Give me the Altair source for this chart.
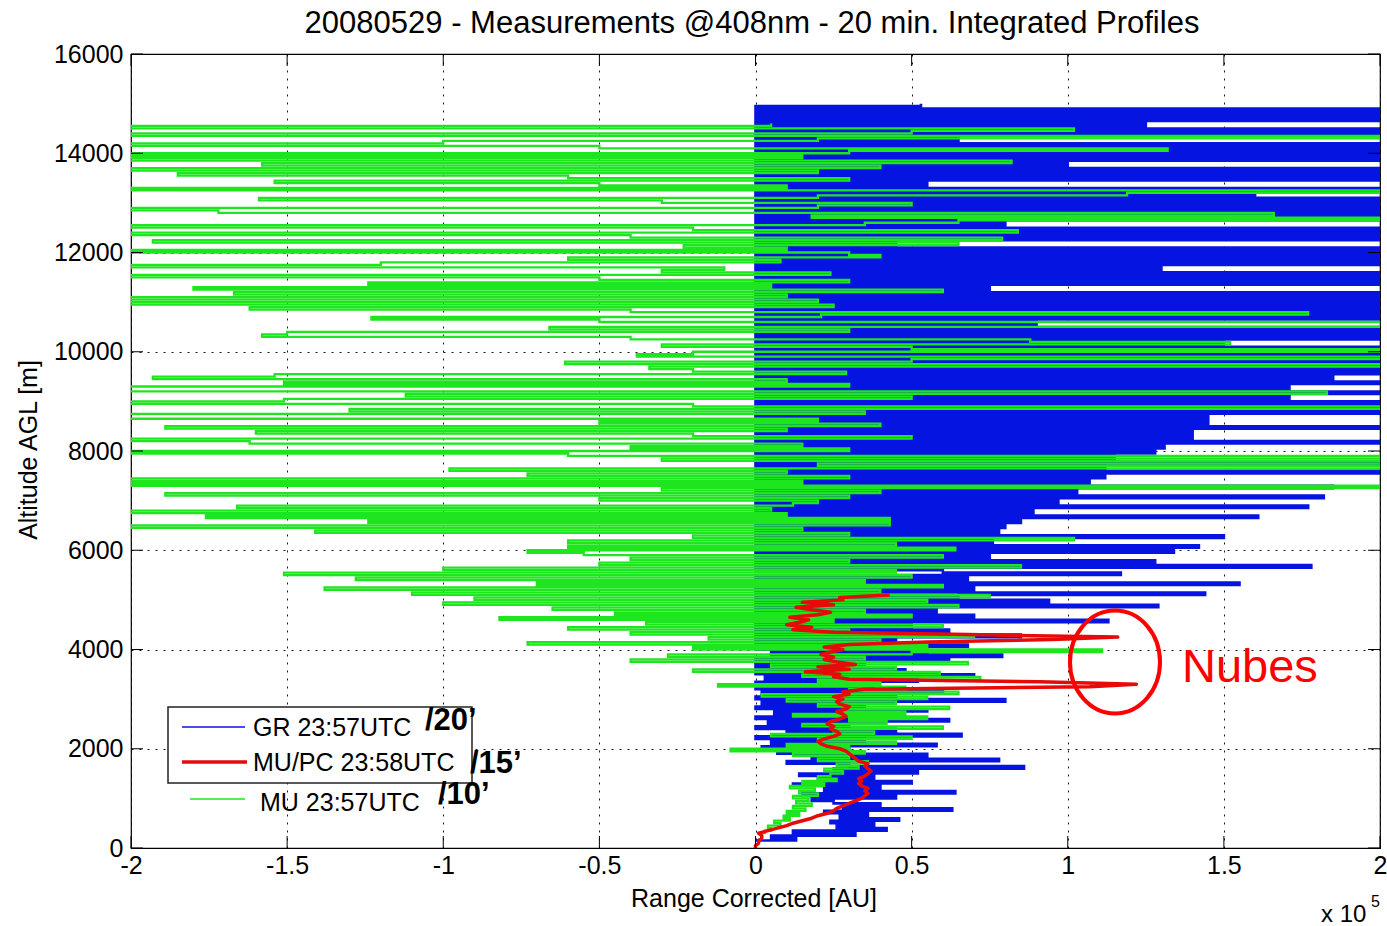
import altair as alt
import pandas as pd

# ---------------- data ----------------
TITLE = "20080529 - Measurements @408nm - 20 min. Integrated Profiles"
X_TITLE = "Range Corrected [AU]"
Y_TITLE = "Altitude AGL [m]"
X_TICKS = [-2, -1.5, -1, -0.5, 0, 0.5, 1, 1.5, 2]
Y_TICKS = [0, 2000, 4000, 6000, 8000, 10000, 12000, 14000, 16000]
SERIES = ["GR 23:57UTC", "MU/PC 23:58UTC", "MU 23:57UTC"]
INTEGRATION = ["/20\u2019", "/15\u2019", "/10\u2019"]
NOTE = "Nubes"

ALT_STEP = 50  # m between profile bins used here

# GR (blue) profile, x 1e5, starting at 150 m; one row per km
GR_START = 150
GR_VALUES = [
    [0.0, 0.13, 0.05, 0.32, 0.12, 0.42, 0.26, 0.38, 0.24, 0.46, 0.27, 0.36, 0.22, 0.63, 0.28, 0.40, 0.25],
    [0.18, 0.45, 0.15, 0.64, 0.22, 0.40, 0.12, 0.50, 0.20, 0.38, 0.14, 0.52, 0.25, 0.86, 0.30, 0.10, 0.78, 0.18, 0.55, 0.07],
    [0.30, 0.02, 0.58, 0.05, 0.35, 0.0, 0.66, 0.10, 0.45, 0.0, 0.30, 0.04, 0.62, 0.0, 0.40, 0.06, 0.55, 0.0, 0.35, 0.02],
    [0.80, 0.0, 0.45, 0.02, 0.60, 0.0, 0.38, 0.0, 0.52, 0.03, 0.70, 0.0, 0.48, 0.0, 0.35, 0.0, 0.62, 0.0, 0.79, 0.05],
    [0.55, 0.0, 0.68, 0.0, 0.45, 0.0, 0.85, 0.0, 0.62, 0.0, 0.50, 0.0, 1.13, 0.0, 0.70, 0.0, 0.58, 0.0, 1.29, 0.0],
    [0.94, 0.0, 0.65, 1.44, 0.0, 0.70, 0.0, 1.55, 0.0, 0.68, 0.0, 1.17, 0.60, 0.0, 1.78, 0.0, 1.28, 0.0, 0.75, 0.0],
    [1.34, 0.0, 1.42, 0.0, 0.76, 0.0, 1.50, 0.0, 0.78, 0.0, 0.80, 0.0, 0.85, 0.0, 1.61, 0.0, 0.89, 0.0, 1.77, 0.0],
    [0.97, 0.0, 1.82, 0.0, 1.03, 0.0, 1.85, 0.0, 1.07, 0.0, 1.12, 0.0, 2.6, 0.0, 1.12, 0.0, 2.4, 0.0, 1.15, 0.0],
    [1.28, 0.0, 1.31, 0.0, 2.5, 0.0, 1.40, 0.0, 1.40, 0.0, 2.4, 0.0, 1.45, 0.0, 1.45, 0.0, 2.8, 0.0, 2.5, 0.0],
    [2.6, 0.0, 1.71, 0.0, 2.5, 0.0, 1.71, 0.0, 2.2, 0.0, 1.85, 0.0, 2.5, 0.0, 3.0, 0.0, 2.4, 0.0, 2.7, 0.0],
    [3.0, 0.0, 2.8, 0.0, 1.50, 0.0, 3.0, 0.0, 2.6, 0.0, 3.0, 0.0, 0.9, 0.0, 2.7, 0.0, 3.0, 0.0, 2.5, 0.0],
    [2.8, 0.0, 3.0, 0.0, 2.4, 0.0, 0.75, 0.0, 3.0, 0.0, 2.6, 0.0, 3.0, 0.0, 1.3, 0.0, 2.9, 0.0, 3.0, 0.0],
    [3.0, 0.0, 2.5, 0.0, 0.45, 0.0, 3.0, 0.0, 2.7, 0.0, 3.0, 0.0, 0.8, 0.0, 3.0, 0.0, 2.6, 0.0, 3.0, 0.0],
    [2.9, 0.0, 3.0, 0.0, 1.6, 0.0, 3.0, 0.0, 0.55, 0.0, 2.8, 0.0, 3.0, 0.0, 2.5, 0.0, 1.0, 0.0, 3.0, 0.0],
    [3.0, 0.0, 2.6, 0.0, 3.0, 0.0, 0.65, 0.0, 2.8, 0.0, 3.0, 0.0, 1.25, 0.0, 2.7, 0.0, 3.0, 0.0, 3.0, 0.0],
    [0.53],
]

# MU (green) profile, starting at 300 m
MU_START = 300
MU_VALUES = [
    [0.01, 0.03, 0.05, 0.04, 0.08, 0.06, 0.11, 0.09, 0.14, 0.10, 0.16, 0.12, 0.18, 0.13],
    [0.17, 0.12, 0.20, 0.14, 0.19, 0.11, 0.22, 0.15, 0.26, 0.20, 0.24, 0.28, 0.22, 0.33, 0.26, 0.36, 0.20, 0.30, 0.12, 0.35],
    [-0.08, 0.30, 0.10, 0.45, 0.20, 0.50, 0.05, 0.38, 0.25, 0.60, 0.15, 0.42, 0.30, 0.55, 0.12, 0.48, 0.28, 0.62, 0.20, 0.45],
    [0.10, 0.55, 0.02, 0.65, 0.30, 0.48, -0.12, 0.40, 0.20, 0.72, 0.15, 0.59, -0.20, 0.45, 0.05, 0.68, -0.40, 0.35, -0.28, 0.50],
    [1.11, -0.20, 0.55, -0.73, 0.40, -0.15, 0.70, -0.40, 0.30, -0.60, 0.60, -0.35, 0.25, -0.82, 0.50, -0.45, 0.35, -0.65, 0.65, -1.00],
    [0.55, -0.90, 0.75, -1.10, 0.40, -1.38, 0.60, -0.70, 0.35, -1.28, 0.50, -1.51, 0.45, -1.00, 0.85, -0.50, 0.30, -0.40, 0.60, -0.55],
    [-0.73, 0.64, -0.60, 0.45, -0.60, 1.02, -0.20, 0.30, -1.41, 0.15, -2.4, 0.43, -1.24, 0.43, -1.76, 0.10, -2.3, 0.05, -1.66, 0.12],
    [0.20, -0.50, 0.30, -1.89, 0.40, -0.30, 2.4, -2.3, 0.15, -2.5, 0.30, -0.73, 0.10, -0.98, 2.6, 0.20, 2.3, -0.30, 2.5, -0.60],
    [-2.5, 0.30, -0.40, 0.15, -1.62, -2.2, 0.50, -0.20, -1.60, 0.10, -1.89, 0.40, -0.50, 0.20, -2.4, -2.2, 0.35, -1.30, 2.3, -0.20],
    [-2.3, -1.51, 0.50, -1.12, 1.83, -2.4, -2.2, 0.30, -1.51, 0.10, -1.93, -1.54, 0.29, -0.20, -0.34, 2.6, -0.61, 0.50, 2.4, -0.38],
    [-0.20, 2.4, 0.50, -0.30, 1.52, 0.88, -0.40, -1.58, -1.50, 0.30, -0.66, 2.5, 2.3, -0.50, -1.23, 0.21, 1.77, -0.40, -1.62, 0.25],
    [-2.3, 0.20, -2.5, 0.10, -1.67, 0.60, -1.80, 0.05, -1.24, 0.30, -0.50, -2.4, 0.24, -0.30, -0.10, -2.5, -1.20, 0.08, -0.60, 0.40],
    [0.30, -2.3, 0.10, -0.23, 0.65, -1.93, 0.79, -0.40, -2.4, 0.84, -0.20, -2.3, 0.35, 0.65, 2.6, 0.18, 1.66, -1.72, -2.4, 0.20],
    [0.50, -0.30, -1.59, 0.20, 1.19, 2.5, -2.3, 0.10, -0.50, -1.54, 0.30, -0.60, -1.85, 0.20, -2.4, 0.40, -1.58, 0.82, -2.3, 0.15],
    [-2.4, 0.30, 1.32, -0.50, -2.3, -1.00, 0.20, 2.4, -2.2, 0.50, 1.02, -2.5, 0.05],
]

# MU/PC (red) profile, starting at 0 m
MUPC_START = 0
MUPC_VALUES = [
    [0.00, 0.00, 0.01, 0.01, 0.02, 0.02, 0.01, 0.04, 0.07, 0.10, 0.12, 0.15, 0.18, 0.20, 0.23, 0.25, 0.26, 0.28, 0.30, 0.32],
    [0.34, 0.35, 0.36, 0.35, 0.36, 0.34, 0.33, 0.34, 0.33, 0.35, 0.36, 0.37, 0.36, 0.35, 0.36, 0.33, 0.32, 0.31, 0.30, 0.29],
    [0.27, 0.23, 0.21, 0.20, 0.22, 0.25, 0.27, 0.26, 0.24, 0.25, 0.23, 0.24, 0.27, 0.29, 0.28, 0.26, 0.29, 0.30, 0.27, 0.26],
    [0.28, 0.25, 0.30, 0.28, 0.35, 1.07, 1.22, 0.91, 0.30, 0.25, 0.27, 0.16, 0.30, 0.20, 0.32, 0.26, 0.22, 0.25, 0.21, 0.24],
    [0.28, 0.22, 0.30, 0.55, 0.95, 1.16, 0.68, 0.25, 0.12, 0.18, 0.10, 0.14, 0.17, 0.11, 0.20, 0.24, 0.18, 0.13, 0.25, 0.15],
    [0.28, 0.27, 0.43],
]

# ---------------- styling ----------------
FONT = "Liberation Sans"
BLUE, RED, GREEN = "#0514e1", "#e60a0a", "#1ee61e"
W, H = 1249, 794


def profile(start, bands, name):
    vals = [v for band in bands for v in band]
    return pd.DataFrame({
        "alt": [start + ALT_STEP * i for i in range(len(vals))],
        "value": vals,
        "series": name,
    })


gr = profile(GR_START, GR_VALUES, SERIES[0])
mupc = profile(MUPC_START, MUPC_VALUES, SERIES[1])
mu = profile(MU_START, MU_VALUES, SERIES[2])

XS = alt.Scale(domain=[-2, 2], nice=False, zero=False)
YS = alt.Scale(domain=[0, 16000], nice=False, zero=False)

X_AXIS = alt.Axis(
    values=X_TICKS, title=None, grid=True, gridDash=[2, 6], gridColor="black",
    gridOpacity=0.9, ticks=False, tickSize=0, domain=False, labelPadding=5,
    labelFontSize=25, labelFont=FONT, labelColor="black", labelFlush=False,
    labelExpr="datum.value < 0 ? '-' + (-datum.value) : '' + datum.value",
)
Y_AXIS = alt.Axis(
    values=Y_TICKS, title=None, grid=True, gridDash=[2, 6], gridColor="black",
    gridOpacity=0.9, ticks=False, tickSize=0, domain=False, labelPadding=8,
    labelFontSize=25, labelFont=FONT, labelColor="black", labelFlush=False,
    format="d",
)


def xenc(field):
    return alt.X(field, scale=XS, axis=X_AXIS)


def yenc(field):
    return alt.Y(field, scale=YS, axis=Y_AXIS)


blue = alt.Chart(gr).mark_line(
    interpolate="step-after", clip=True, strokeWidth=2.6, color=BLUE
).encode(x=xenc("value:Q"), y=yenc("alt:Q"), order=alt.Order("alt:Q"))
green = alt.Chart(mu).mark_line(
    interpolate="step-after", clip=True, strokeWidth=2.3, color=GREEN
).encode(x=xenc("value:Q"), y=yenc("alt:Q"), order=alt.Order("alt:Q"))
red = alt.Chart(mupc).mark_line(
    clip=True, strokeWidth=3.5, color=RED, strokeJoin="round"
).encode(x=xenc("value:Q"), y=yenc("alt:Q"), order=alt.Order("alt:Q"))

TL = 12
xt = pd.DataFrame({"tick": X_TICKS})
yt = pd.DataFrame({"tick": Y_TICKS})
tick_b = alt.Chart(xt).mark_rule(color="black").encode(
    x=xenc("tick:Q"), y=alt.value(H), y2=alt.value(H - TL))
tick_t = alt.Chart(xt).mark_rule(color="black").encode(
    x=xenc("tick:Q"), y=alt.value(0), y2=alt.value(TL))
tick_l = alt.Chart(yt).mark_rule(color="black").encode(
    y=yenc("tick:Q"), x=alt.value(0), x2=alt.value(TL))
tick_r = alt.Chart(yt).mark_rule(color="black").encode(
    y=yenc("tick:Q"), x=alt.value(W), x2=alt.value(W - TL))


def one(text):
    return pd.DataFrame({"label": [text]})


def label(text, x, y, size=25, color="black", align="left", **kw):
    return alt.Chart(one(text)).mark_text(
        align=align, baseline="alphabetic", fontSize=size, font=FONT,
        color=color, **kw
    ).encode(text="label:N", x=alt.value(x), y=alt.value(y))


def key_line(name, x1, x2, y, color, width):
    return alt.Chart(one(name)).mark_rule(color=color, strokeWidth=width).encode(
        x=alt.value(x1), x2=alt.value(x2), y=alt.value(y))


legend_box = alt.Chart(one("box")).mark_rect(
    fill="white", stroke="#222222", strokeWidth=1.5
).encode(x=alt.value(37), x2=alt.value(341), y=alt.value(653), y2=alt.value(729))

ELLIPSE = "M 0.874,0 A 0.874,1 0 1,1 -0.874,0 A 0.874,1 0 1,1 0.874,0 Z"
ellipse = alt.Chart(one(NOTE)).mark_point(
    shape=ELLIPSE, size=103 * 103, filled=False, stroke="#ff0000",
    strokeWidth=4, opacity=1
).encode(x=alt.value(984), y=alt.value(608))

layers = [
    blue, green, red, tick_b, tick_t, tick_l, tick_r,
    legend_box,
    key_line(SERIES[0], 51, 114, 673, BLUE, 1.5),
    label(SERIES[0], 122, 682),
    key_line(SERIES[1], 51, 116, 708, RED, 3.5),
    label(SERIES[1], 122, 717),
    key_line(SERIES[2], 59, 114, 745, GREEN, 1.5),
    label(SERIES[2], 129, 757),
    label(INTEGRATION[0], 294, 676, size=31, fontWeight="bold"),
    label(INTEGRATION[1], 339, 719, size=31, fontWeight="bold"),
    label(INTEGRATION[2], 307, 750, size=31, fontWeight="bold"),
    ellipse,
    label(NOTE, 1051, 628, size=47, color="#ff0000"),
    label(TITLE, 621, -21, size=31, align="center"),
    label(X_TITLE, 623, 853, align="center"),
    label("x 10", 1190, 868, size=24),
    label("5", 1240, 853, size=16),
    alt.Chart(one(Y_TITLE)).mark_text(
        align="center", baseline="middle", angle=270, fontSize=25, font=FONT,
        color="black"
    ).encode(text="label:N", x=alt.value(-102), y=alt.value(396)),
]

chart = alt.layer(*layers).properties(
    width=W, height=H,
    autosize=alt.AutoSizeParams(type="none"),
    padding={"left": 131, "top": 54, "right": 7, "bottom": 78},
    background="white",
).configure_view(stroke="black", strokeWidth=1.2)

chart.save("out.html", embed_options={"renderer": "svg", "actions": False})
